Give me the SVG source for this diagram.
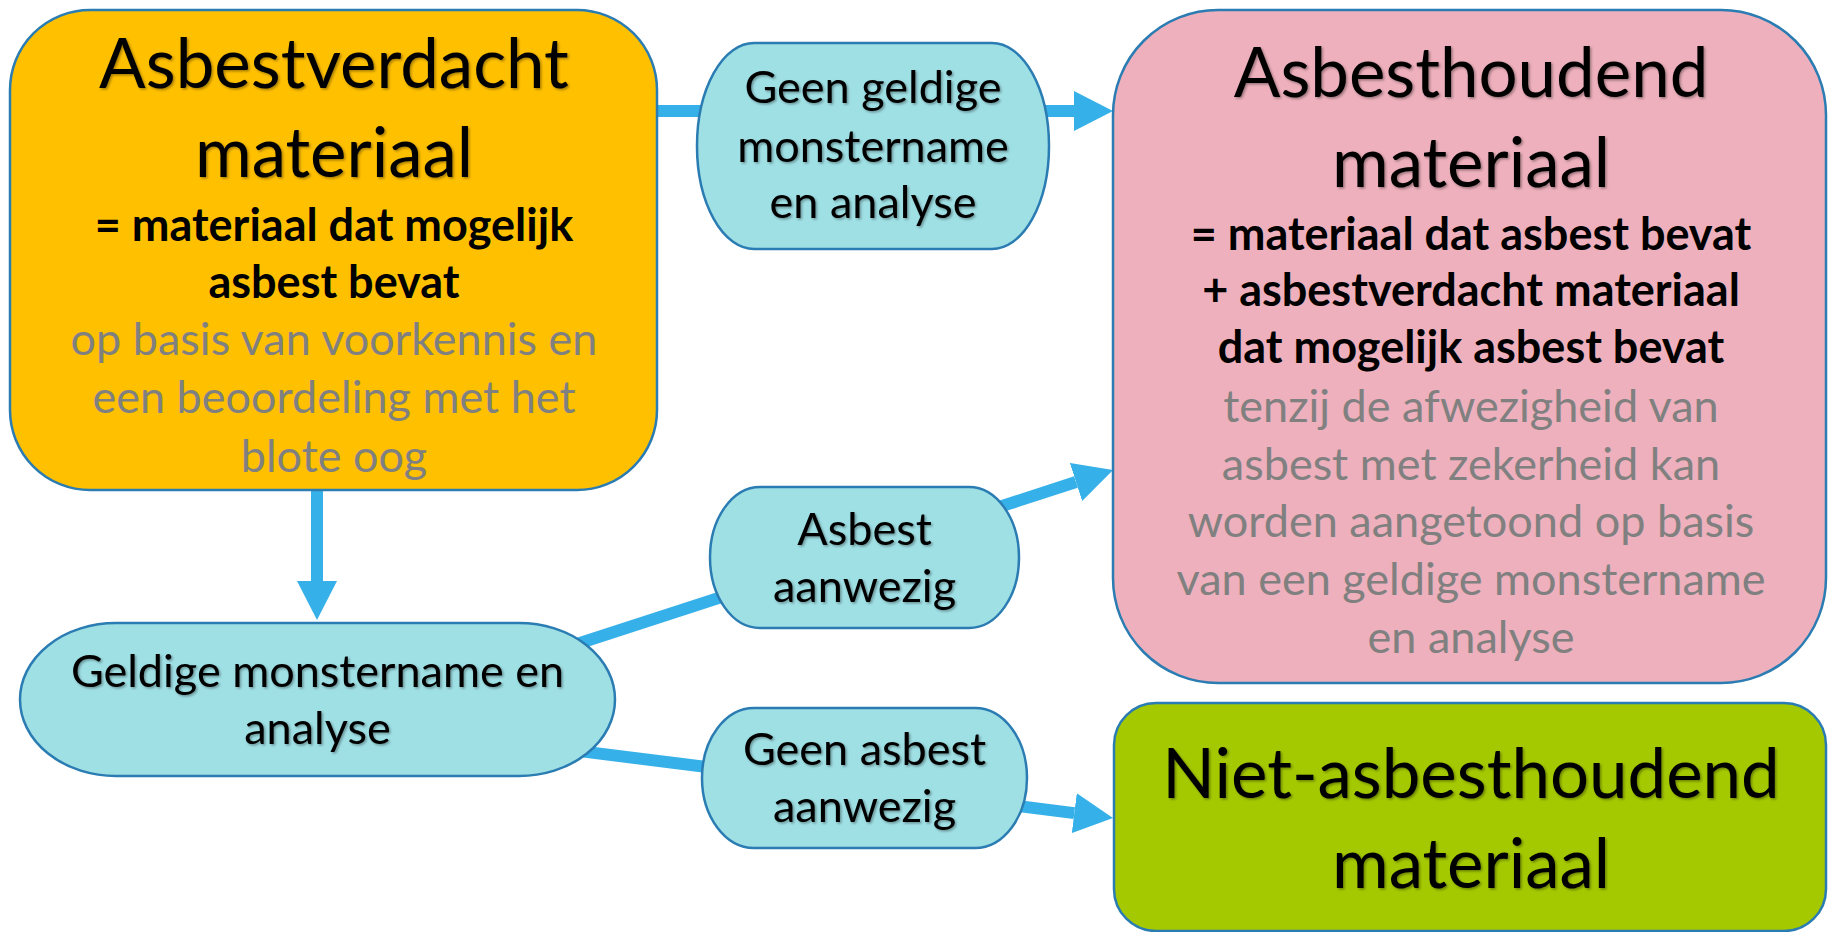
<svg xmlns="http://www.w3.org/2000/svg" width="1829" height="932" viewBox="0 0 1829 932">
<style>
.box{stroke:#2A7CB2;stroke-width:2.5}
.pill{fill:#9FE0E5;stroke:#2A7CB2;stroke-width:2.5}
.t{font-family:Lato,"Open Sans","Liberation Sans",sans-serif;text-anchor:middle}
.title{font-size:69px;fill:#000;filter:url(#sh)}
.lbl{font-size:45px;fill:#000;filter:url(#sh)}
.bold{font-size:45px;font-weight:bold;fill:#000}
.gray{font-size:45px;fill:#808080}
.conn{stroke:#36B0E8;stroke-width:12;fill:none}
</style>
<defs>
<filter id="sh" x="-10%" y="-20%" width="120%" height="140%">
<feDropShadow dx="1.5" dy="1.5" stdDeviation="1.2" flood-color="#000" flood-opacity="0.35"/>
</filter>
<marker id="ah" markerUnits="userSpaceOnUse" markerWidth="40" markerHeight="40" refX="0" refY="20" orient="auto">
<path d="M0,0 L39,20 L0,40 Z" fill="#36B0E8"/>
</marker>
</defs>
<rect width="1829" height="932" fill="#fff"/>
<g id="connectors">
<line class="conn" x1="657" y1="111" x2="1074" y2="111" marker-end="url(#ah)"/>
<line class="conn" x1="317" y1="490" x2="317" y2="581" marker-end="url(#ah)"/>
<line class="conn" x1="560" y1="649.5" x2="1076" y2="482" marker-end="url(#ah)"/>
<line class="conn" x1="560" y1="748.6" x2="1074.3" y2="813.1" marker-end="url(#ah)"/>
</g>
<g id="asbestverdacht">
<rect class="box" x="10" y="10" width="647" height="480" rx="80" fill="#FFC000"/>
<text class="t title" x="334" y="88">Asbestverdacht</text>
<text class="t title" x="334" y="177">materiaal</text>
<text class="t bold" x="334" y="241">= materiaal dat mogelijk</text>
<text class="t bold" x="334" y="298">asbest bevat</text>
<text class="t gray" x="334" y="355">op basis van voorkennis en</text>
<text class="t gray" x="334" y="413">een beoordeling met het</text>
<text class="t gray" x="334" y="472">blote oog</text>
</g>
<g id="geen-geldige">
<rect class="pill" x="697" y="43" width="352" height="206" rx="57" ry="103"/>
<text class="t lbl" x="873" y="103">Geen geldige</text>
<text class="t lbl" x="873" y="162">monstername</text>
<text class="t lbl" x="873" y="218">en analyse</text>
</g>
<g id="asbesthoudend">
<rect class="box" x="1113" y="10" width="713" height="673" rx="105" fill="#EDB0BC"/>
<text class="t title" x="1471" y="97">Asbesthoudend</text>
<text class="t title" x="1471" y="187">materiaal</text>
<text class="t bold" x="1471" y="250">= materiaal dat asbest bevat</text>
<text class="t bold" x="1471" y="306">+ asbestverdacht materiaal</text>
<text class="t bold" x="1471" y="363">dat mogelijk asbest bevat</text>
<text class="t gray" x="1471" y="422">tenzij de afwezigheid van</text>
<text class="t gray" x="1471" y="480">asbest met zekerheid kan</text>
<text class="t gray" x="1471" y="537">worden aangetoond op basis</text>
<text class="t gray" x="1471" y="595">van een geldige monstername</text>
<text class="t gray" x="1471" y="653">en analyse</text>
</g>
<g id="geldige">
<rect class="pill" x="20" y="623" width="595" height="153" rx="96" ry="76.5"/>
<text class="t lbl" x="317.5" y="687">Geldige monstername en</text>
<text class="t lbl" x="317.5" y="744">analyse</text>
</g>
<g id="asbest-aanwezig">
<rect class="pill" x="710" y="487" width="309" height="141" rx="50" ry="70.5"/>
<text class="t lbl" x="864.5" y="545">Asbest</text>
<text class="t lbl" x="864.5" y="602">aanwezig</text>
</g>
<g id="geen-asbest">
<rect class="pill" x="702" y="708" width="325" height="140" rx="52" ry="70"/>
<text class="t lbl" x="864.5" y="765">Geen asbest</text>
<text class="t lbl" x="864.5" y="822">aanwezig</text>
</g>
<g id="niet-asbesthoudend">
<rect class="box" x="1114" y="703" width="712" height="228" rx="42" fill="#A4C900"/>
<text class="t title" x="1471" y="798">Niet-asbesthoudend</text>
<text class="t title" x="1471" y="888">materiaal</text>
</g>
</svg>
